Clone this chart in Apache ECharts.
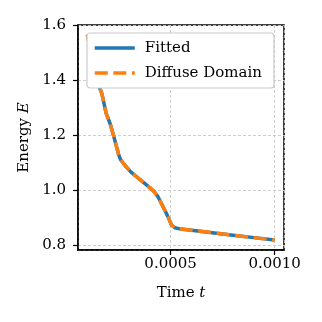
<!DOCTYPE html>
<html>
  <head>
       <meta charset="utf-8">
       <title></title>
       <script src="https://cdn.jsdelivr.net/npm/echarts@6/dist/echarts.min.js"></script>
       <style>
         html, body { margin: 0; padding: 0; background: #fff; }
       </style>
  </head>

  <body>

     <div id="main" style="width: 322px; height: 322px"></div>
     <script type="text/javascript">
          // data
          var times = [0.0001, 0.00012, 0.00014, 0.00016, 0.00017, 0.00019, 0.00021, 0.000225,
                       0.00025, 0.00026, 0.00028, 0.00031, 0.00035, 0.00039, 0.00042, 0.00044,
                       0.00046, 0.00048, 0.00049, 0.000505, 0.00052, 0.00055, 0.0006, 0.0007,
                       0.0008, 0.0009, 0.001]
          var fitted = [1.565, 1.49, 1.42, 1.37, 1.35, 1.28, 1.24, 1.2,
                        1.13, 1.11, 1.09, 1.065, 1.04, 1.015, 0.995, 0.975,
                        0.945, 0.915, 0.898, 0.872, 0.863, 0.858, 0.854, 0.845,
                        0.836, 0.827, 0.818]
          var diffuse = fitted.slice()
          var names = ['Fitted', 'Diffuse Domain']

          var font = 'DejaVu Serif'
          var fs = 15

          function pairs(xs, ys){
              var out = []
              for (var i = 0; i < xs.length; i++) out.push([xs[i], ys[i]])
              return out
          }

          var rich = {
              a: { fontFamily: font, fontSize: fs, color: '#000' },
              i: { fontFamily: font, fontSize: fs, color: '#000', fontStyle: 'italic' }
          }

          var myChart = echarts.init(document.getElementById('main'))

          var option = {
              animation: false,
              textStyle: { fontFamily: font },
              grid: {
                  left: 78, right: 38, top: 25, bottom: 72,
                  show: true, borderColor: '#000', borderWidth: 1.5,
                  backgroundColor: 'transparent'
              },
              legend: {
                  data: names,
                  z: 10,
                  orient: 'vertical',
                  left: 87, top: 33,
                  padding: [7, 12, 7, 6],
                  itemWidth: 40, itemHeight: 14, itemGap: 9,
                  itemStyle: { opacity: 0 },
                  lineStyle: { width: 3.5 },
                  backgroundColor: '#ffffff',
                  borderColor: '#cccccc', borderWidth: 1.2, borderRadius: 3,
                  textStyle: { fontFamily: font, fontSize: fs, color: '#000', lineHeight: 16, padding: [0, 0, 0, 5] }
              },
              xAxis: {
                  type: 'value',
                  min: 0.000055, max: 0.001045,
                  minInterval: 0.0005, maxInterval: 0.0005,
                  name: '{a|Time }{i|t}',
                  nameLocation: 'middle', nameGap: 36,
                  nameTextStyle: { rich: rich },
                  axisLine: { show: true, lineStyle: { color: '#000', width: 1.5 } },
                  axisTick: { show: true, inside: false, length: 5, lineStyle: { color: '#000', width: 1.2 } },
                  axisLabel: {
                      showMinLabel: false, showMaxLabel: false,
                      margin: 7, fontSize: fs, color: '#000', fontFamily: font,
                      formatter: function(v){ return v.toFixed(4) }
                  },
                  splitLine: { show: true, lineStyle: { color: '#c8c8c8', width: 0.9, type: [3, 2] } }
              },
              yAxis: {
                  type: 'value',
                  min: 0.782, max: 1.6,
                  minInterval: 0.2, maxInterval: 0.2,
                  name: '{a|Energy }{i|E}',
                  nameLocation: 'middle', nameGap: 41,
                  nameTextStyle: { rich: rich },
                  axisLine: { show: true, lineStyle: { color: '#000', width: 1.5 } },
                  axisTick: { show: true, inside: false, length: 5, lineStyle: { color: '#000', width: 1.2 } },
                  axisLabel: {
                      showMinLabel: false,
                      margin: 12, fontSize: fs, color: '#000', fontFamily: font,
                      formatter: function(v){ return v.toFixed(1) }
                  },
                  splitLine: { show: true, lineStyle: { color: '#c8c8c8', width: 0.9, type: [3, 2] } }
              },
              series: [{
                  name: names[0],
                  type: 'line',
                  data: pairs(times, fitted),
                  symbol: 'none',
                  z: 2,
                  lineStyle: { color: '#1f77b4', width: 3.5 },
                  itemStyle: { color: '#1f77b4' }
              }, {
                  name: names[1],
                  type: 'line',
                  data: pairs(times, diffuse),
                  symbol: 'none',
                  z: 3,
                  lineStyle: { color: '#ff7f0e', width: 3.5, type: [13, 5.6] },
                  itemStyle: { color: '#ff7f0e' }
              }]
          }
          myChart.setOption(option)
</script>

  </body>

</html>
